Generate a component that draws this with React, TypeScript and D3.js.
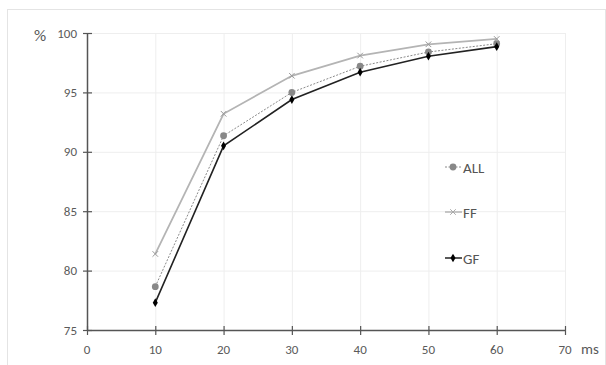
import { useEffect, useRef } from 'react';
import * as d3 from 'd3';

const xValues = [10, 20, 30, 40, 50, 60];
const allValues = [78.65, 91.35, 95.0, 97.2, 98.4, 99.1];
const ffValues = [81.4, 93.2, 96.4, 98.1, 99.05, 99.5];
const gfValues = [77.3, 90.5, 94.4, 96.7, 98.05, 98.85];
const xTicks = [0, 10, 20, 30, 40, 50, 60, 70];
const yTicks = [75, 80, 85, 90, 95, 100];

const W = 606;
const H = 365;
const MARGIN = { top: 33, right: 41, bottom: 34, left: 87 };

export default function App() {
  const svgRef = useRef<SVGSVGElement>(null);

  useEffect(() => {
    const svg = d3.select(svgRef.current);
    svg.selectAll('*').remove();

    const innerW = W - MARGIN.left - MARGIN.right;
    const innerH = H - MARGIN.top - MARGIN.bottom - 1;

    const x = d3.scaleLinear().domain([0, 70]).range([0, innerW]);
    const y = d3.scaleLinear().domain([75, 100]).range([innerH, 0]);

    // outer frame
    svg.append('rect')
      .attr('x', 7.5).attr('y', 9.5)
      .attr('width', W - 8).attr('height', H - 9)
      .attr('fill', '#fff').attr('stroke', '#e4e4e4');

    const g = svg.append('g').attr('transform', `translate(${MARGIN.left},${MARGIN.top})`);

    // grid
    g.append('g').selectAll('line.gx')
      .data(xTicks.slice(1))
      .join('line')
      .attr('x1', d => x(d) + 0.5).attr('x2', d => x(d) + 0.5)
      .attr('y1', 0).attr('y2', innerH)
      .attr('stroke', '#eeeeee');
    g.append('g').selectAll('line.gy')
      .data(yTicks.slice(1))
      .join('line')
      .attr('x1', 0).attr('x2', innerW)
      .attr('y1', d => y(d) + 0.5).attr('y2', d => y(d) + 0.5)
      .attr('stroke', '#eeeeee');

    // axes
    const axisColor = '#555';
    g.append('line')
      .attr('x1', 0.5).attr('x2', 0.5).attr('y1', 0).attr('y2', innerH)
      .attr('stroke', axisColor).attr('stroke-width', 1.5);
    g.append('line')
      .attr('x1', 0).attr('x2', innerW).attr('y1', innerH + 0.5).attr('y2', innerH + 0.5)
      .attr('stroke', axisColor).attr('stroke-width', 1.5);

    g.selectAll('line.ty')
      .data(yTicks)
      .join('line')
      .attr('x1', -4).attr('x2', 5)
      .attr('y1', d => y(d) + 0.5).attr('y2', d => y(d) + 0.5)
      .attr('stroke', axisColor).attr('stroke-width', 1.2);
    g.selectAll('line.tx')
      .data(xTicks)
      .join('line')
      .attr('x1', d => x(d) + 0.5).attr('x2', d => x(d) + 0.5)
      .attr('y1', innerH - 4).attr('y2', innerH + 5)
      .attr('stroke', axisColor).attr('stroke-width', 1.2);

    const font = 'Calibri, Carlito, "Open Sans", sans-serif';
    g.selectAll('text.ylab')
      .data(yTicks)
      .join('text')
      .attr('x', -10).attr('y', d => y(d) + 4.5)
      .attr('text-anchor', 'end')
      .attr('font-family', font).attr('font-size', 13)
      .attr('fill', '#5a5a5a')
      .text(d => d);
    g.selectAll('text.xlab')
      .data(xTicks)
      .join('text')
      .attr('x', d => x(d)).attr('y', innerH + 24)
      .attr('text-anchor', 'middle')
      .attr('font-family', font).attr('font-size', 13)
      .attr('fill', '#5a5a5a')
      .text(d => d);

    g.append('text')
      .attr('x', innerW + 16).attr('y', innerH + 24)
      .attr('font-family', font).attr('font-size', 15).attr('fill', '#5a5a5a')
      .text('ms');
    g.append('text')
      .attr('x', -53).attr('y', 8)
      .attr('font-family', font).attr('font-size', 17).attr('fill', '#5a5a5a')
      .text('%');

    const line = d3.line<[number, number]>().x(d => x(d[0])).y(d => y(d[1]));
    const pts = (vals: number[]) => xValues.map((v, i) => [v, vals[i]] as [number, number]);

    // FF
    g.append('path').attr('d', line(pts(ffValues)))
      .attr('fill', 'none').attr('stroke', '#b4b4b4').attr('stroke-width', 1.8);
    const cross = d3.symbol().type(d3.symbolX).size(22);
    g.selectAll('path.ff')
      .data(pts(ffValues))
      .join('path')
      .attr('transform', d => `translate(${x(d[0])},${y(d[1])})`)
      .attr('d', cross())
      .attr('fill', 'none').attr('stroke', '#999').attr('stroke-width', 1);

    // ALL
    g.append('path').attr('d', line(pts(allValues)))
      .attr('fill', 'none').attr('stroke', '#8a8a8a').attr('stroke-width', 1)
      .attr('stroke-dasharray', '2,1.5');
    g.selectAll('circle.all')
      .data(pts(allValues))
      .join('circle')
      .attr('cx', d => x(d[0])).attr('cy', d => y(d[1]))
      .attr('r', 3.4).attr('fill', '#888');

    // GF
    g.append('path').attr('d', line(pts(gfValues)))
      .attr('fill', 'none').attr('stroke', '#222').attr('stroke-width', 1.6);
    const diamond = d3.symbol().type(d3.symbolDiamond).size(22);
    g.selectAll('path.gf')
      .data(pts(gfValues))
      .join('path')
      .attr('transform', d => `translate(${x(d[0])},${y(d[1])})`)
      .attr('d', diamond())
      .attr('fill', '#000');

    // legend
    const legend = [
      { name: 'ALL', y: 167 },
      { name: 'FF', y: 212 },
      { name: 'GF', y: 258 },
    ];
    const lg = svg.append('g');
    legend.forEach(item => {
      const row = lg.append('g').attr('transform', `translate(445,${item.y})`);
      if (item.name === 'ALL') {
        row.append('line').attr('x1', 0).attr('x2', 17).attr('y1', 0).attr('y2', 0)
          .attr('stroke', '#8a8a8a').attr('stroke-dasharray', '2,1.5');
        row.append('circle').attr('cx', 8).attr('cy', 0).attr('r', 3.4).attr('fill', '#888');
      } else if (item.name === 'FF') {
        row.append('line').attr('x1', 0).attr('x2', 17).attr('y1', 0).attr('y2', 0)
          .attr('stroke', '#b4b4b4').attr('stroke-width', 1.5);
        row.append('path').attr('transform', 'translate(8,0)').attr('d', cross())
          .attr('fill', 'none').attr('stroke', '#aaa');
      } else {
        row.append('line').attr('x1', 0).attr('x2', 17).attr('y1', 0).attr('y2', 0)
          .attr('stroke', '#222').attr('stroke-width', 1.5);
        row.append('path').attr('transform', 'translate(8,0)').attr('d', diamond()).attr('fill', '#000');
      }
      row.append('text').attr('x', 18).attr('y', 5.5)
        .attr('font-family', font).attr('font-size', 15).attr('fill', '#555')
        .text(item.name);
    });
  }, []);

  return (
    <div style={{ position: 'fixed', left: 0, top: 0, width: W, height: H, background: '#fff' }}>
      <svg ref={svgRef} width={W} height={H} />
    </div>
  );
}
